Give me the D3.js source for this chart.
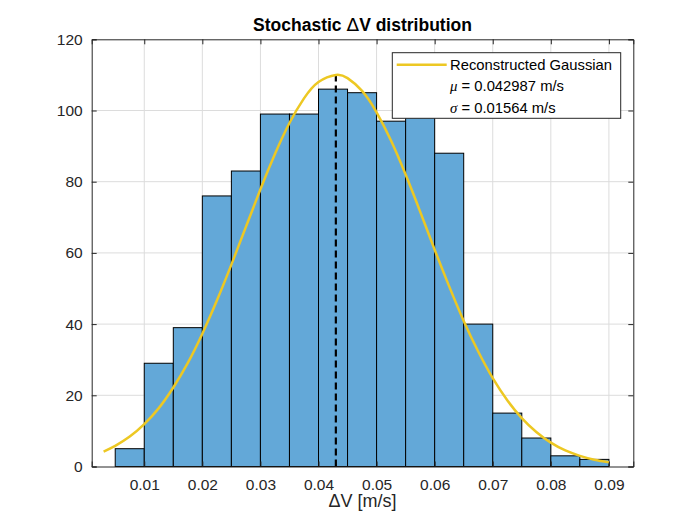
<!DOCTYPE html>
<html>
<head>
<meta charset="utf-8">
<script src="https://cdn.jsdelivr.net/npm/d3@7"></script>
<style>
  html, body { margin: 0; padding: 0; background: #fff; }
  text { font-family: "Liberation Sans", Arial, Helvetica, sans-serif; }
</style>
</head>
<body>
<svg id="chart" width="700" height="525"></svg>
<script>
// ---- data ----
const binEdges = [0.005, 0.010, 0.015, 0.020, 0.025, 0.030, 0.035, 0.040, 0.045,
                  0.050, 0.055, 0.060, 0.065, 0.070, 0.075, 0.080, 0.085, 0.090];
const binCounts = [5, 29, 39, 76, 83, 99, 99, 106, 105, 97, 98, 88, 40, 15, 8, 3, 2];
const gaussX = [0.003, 0.005, 0.0075, 0.010, 0.0125, 0.015, 0.0175, 0.020, 0.0225, 0.025,
                0.0275, 0.030, 0.0325, 0.035, 0.0375, 0.040, 0.042987, 0.045, 0.0475, 0.050,
                0.0525, 0.055, 0.0575, 0.060, 0.0625, 0.065, 0.0675, 0.070, 0.0725, 0.075,
                0.0775, 0.080, 0.0825, 0.085, 0.0875, 0.090];
const gaussY = [4.2, 5.8, 8.4, 11.9, 16.4, 22.2, 29.1, 37.3, 46.6, 56.7,
                67.3, 77.9, 87.8, 96.5, 103.4, 108.0, 110.0, 109.1, 105.5, 99.5,
                91.5, 82.0, 71.6, 60.9, 50.6, 40.9, 32.3, 24.8, 18.6, 13.6,
                9.7, 6.7, 4.5, 3.0, 1.9, 1.2];
const muValue = 0.042987;
const muPeak = 110;
const xTicks = [0.01, 0.02, 0.03, 0.04, 0.05, 0.06, 0.07, 0.08, 0.09];
const yTicks = [0, 20, 40, 60, 80, 100, 120];
const titleParts = ["Stochastic ", "\u0394", "V distribution"];
const xLabelText = "\u0394V [m/s]";
const legendLines = ["Reconstructed Gaussian", "0.042987 m/s", "0.01564 m/s"];
const legendSymbols = ["", "\u03bc", "\u03c3"];

// ---- layout ----
const L = 91.7, R = 633.3, T = 39.3, B = 466.5;
const svg = d3.select("#chart");
const axisColor = "#262626";

const x = d3.scaleLinear().domain([0.00095, 0.0942]).range([L, R]);
const y = d3.scaleLinear().domain([0, 120]).range([B, T]);

// grid
const grid = svg.append("g");
grid.selectAll("line.gx").data(xTicks).join("line")
  .attr("x1", d => x(d)).attr("x2", d => x(d)).attr("y1", T).attr("y2", B)
  .attr("stroke", "#dcdcdc").attr("stroke-width", 1);
grid.selectAll("line.gy").data(yTicks.slice(1, -1)).join("line")
  .attr("y1", d => y(d)).attr("y2", d => y(d)).attr("x1", L).attr("x2", R)
  .attr("stroke", "#dcdcdc").attr("stroke-width", 1);

// bars
const bins = binCounts.map((c, i) => ({x0: binEdges[i], x1: binEdges[i + 1], c}));
svg.append("g").selectAll("rect").data(bins).join("rect")
  .attr("x", d => x(d.x0)).attr("width", d => x(d.x1) - x(d.x0))
  .attr("y", d => y(d.c)).attr("height", d => y(0) - y(d.c))
  .attr("fill", "rgb(99,168,216)").attr("stroke", "#000").attr("stroke-width", 1);

// mean dashed line
svg.append("line")
  .attr("x1", x(muValue)).attr("x2", x(muValue))
  .attr("y1", y(0)).attr("y2", y(muPeak))
  .attr("stroke", "#000").attr("stroke-width", 2.2).attr("stroke-dasharray", "7,4");

// gaussian
const gdata = gaussX.map((v, i) => [v, gaussY[i]]);
svg.append("path").datum(gdata)
  .attr("d", d3.line().x(d => x(d[0])).y(d => y(d[1])).curve(d3.curveNatural))
  .attr("fill", "none").attr("stroke", "rgb(237,200,35)").attr("stroke-width", 2.5);

// axes
const gx = svg.append("g").attr("transform", `translate(0,${B})`)
  .call(d3.axisBottom(x).tickValues(xTicks).tickSize(-5).tickPadding(12).tickFormat(d3.format(".2f")));
const gxTop = svg.append("g").attr("transform", `translate(0,${T})`)
  .call(d3.axisTop(x).tickValues(xTicks).tickSize(-5).tickFormat(""));
const gy = svg.append("g").attr("transform", `translate(${L},0)`)
  .call(d3.axisLeft(y).tickValues(yTicks).tickSize(-5).tickPadding(9));
const gyR = svg.append("g").attr("transform", `translate(${R},0)`)
  .call(d3.axisRight(y).tickValues(yTicks).tickSize(-5).tickFormat(""));
[gx, gxTop, gy, gyR].forEach(g => {
  g.select(".domain").attr("stroke", axisColor).attr("stroke-width", 1);
  g.selectAll(".tick line").attr("stroke", axisColor);
  g.selectAll(".tick text").attr("fill", axisColor).style("font-size", "15.5px")
    .style("font-family", "'Liberation Sans', Arial, sans-serif");
});

// title
const title = svg.append("text").attr("x", (L + R) / 2).attr("y", 30.8).attr("text-anchor", "middle")
  .style("font-size", "17.5px").style("font-weight", "bold").attr("fill", "#000");
title.append("tspan").text(titleParts[0]);
title.append("tspan").style("font-weight", "normal").style("font-family", "'DejaVu Sans', sans-serif")
  .style("font-size", "18.5px").text(titleParts[1]);
title.append("tspan").text(titleParts[2]);

// x label
svg.append("text").attr("x", (L + R) / 2).attr("y", 507).attr("text-anchor", "middle")
  .style("font-size", "18px").attr("fill", axisColor).text(xLabelText);

// legend
const lg = svg.append("g");
lg.append("rect").attr("x", 392.3).attr("y", 52.7).attr("width", 228.4).attr("height", 65.6)
  .attr("fill", "#fff").attr("stroke", axisColor).attr("stroke-width", 1);
lg.append("line").attr("x1", 396.7).attr("x2", 446.7).attr("y1", 64.7).attr("y2", 64.7)
  .attr("stroke", "rgb(237,200,35)").attr("stroke-width", 2.5);
legendLines.forEach((t, i) => {
  const tx = lg.append("text").attr("x", 450).attr("y", 64.7 + i * 21.3).attr("dy", "0.36em")
    .style("font-size", "14.8px").attr("fill", "#000");
  if (legendSymbols[i]) {
    tx.append("tspan").style("font-style", "italic").style("font-family", "'Liberation Serif', 'Times New Roman', serif")
      .text(legendSymbols[i]);
    tx.append("tspan").text(" = " + t);
  } else {
    tx.text(t);
  }
});
</script>
</body>
</html>
